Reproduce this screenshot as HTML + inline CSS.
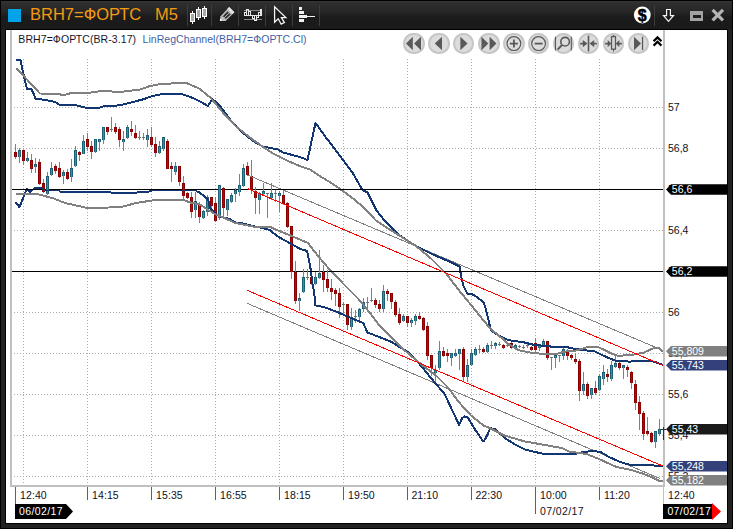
<!DOCTYPE html>
<html lang="ru">
<head>
<meta charset="utf-8">
<title>BRH7=ФОРТС M5</title>
<style>
html,body{margin:0;padding:0;}
body{width:733px;height:529px;position:relative;overflow:hidden;background:#000;font-family:"Liberation Sans",sans-serif;}
#frame{position:absolute;left:1px;top:1px;width:731px;height:527px;background:#212121;}
#tbar{position:absolute;left:1px;top:1px;width:731px;height:28px;background:linear-gradient(#363636 0px,#2e2e2e 2px,#282828 9px,#222222 13px,#1b1b1b 16px,#1a1a1a 28px);}
#panel{position:absolute;left:5px;top:29px;width:721px;height:493px;background:#fff;border:1px solid #000;}
.t{position:absolute;white-space:nowrap;line-height:14px;height:14px;}
#sq{position:absolute;left:7.5px;top:8.5px;width:13px;height:13px;background:#00a2e8;}
#title{position:absolute;left:30px;top:4px;font-size:16.5px;line-height:21px;color:#f59a14;white-space:pre;}
#m5{position:absolute;left:155px;top:4px;font-size:16.5px;line-height:21px;color:#f59a14;white-space:pre;}
.nb{position:absolute;top:32.7px;width:21.8px;height:21.8px;border-radius:50%;background:#dcdcdc;box-shadow:inset 0 0 0 2px #c6c6c6;}
</style>
</head>
<body>
<div id="frame"></div>
<div id="tbar"></div>
<div id="panel"></div>
<div class="t" style="left:668px;top:100px;color:#101020;font-size:10.5px;">57</div>
<div class="t" style="left:668px;top:141px;color:#101020;font-size:10.5px;">56,8</div>
<div class="t" style="left:668px;top:182px;color:#101020;font-size:10.5px;">56,6</div>
<div class="t" style="left:668px;top:223px;color:#101020;font-size:10.5px;">56,4</div>
<div class="t" style="left:668px;top:264px;color:#101020;font-size:10.5px;">56,2</div>
<div class="t" style="left:668px;top:305px;color:#101020;font-size:10.5px;">56</div>
<div class="t" style="left:668px;top:346px;color:#101020;font-size:10.5px;">55,8</div>
<div class="t" style="left:668px;top:387px;color:#101020;font-size:10.5px;">55,6</div>
<div class="t" style="left:668px;top:428px;color:#101020;font-size:10.5px;">55,4</div>
<div class="t" style="left:668px;top:469px;color:#101020;font-size:10.5px;">55,2</div>
<svg width="733" height="529" viewBox="0 0 733 529" style="position:absolute;left:0;top:0" shape-rendering="crispEdges">
<line x1="23.5" y1="59" x2="23.5" y2="485" stroke="#aeaeae" stroke-width="1" stroke-dasharray="1,2"/>
<line x1="87.5" y1="59" x2="87.5" y2="485" stroke="#aeaeae" stroke-width="1" stroke-dasharray="1,2"/>
<line x1="151.5" y1="59" x2="151.5" y2="485" stroke="#aeaeae" stroke-width="1" stroke-dasharray="1,2"/>
<line x1="215.5" y1="59" x2="215.5" y2="485" stroke="#aeaeae" stroke-width="1" stroke-dasharray="1,2"/>
<line x1="279.5" y1="59" x2="279.5" y2="485" stroke="#aeaeae" stroke-width="1" stroke-dasharray="1,2"/>
<line x1="343.5" y1="59" x2="343.5" y2="485" stroke="#aeaeae" stroke-width="1" stroke-dasharray="1,2"/>
<line x1="407.5" y1="59" x2="407.5" y2="485" stroke="#aeaeae" stroke-width="1" stroke-dasharray="1,2"/>
<line x1="471.5" y1="59" x2="471.5" y2="485" stroke="#aeaeae" stroke-width="1" stroke-dasharray="1,2"/>
<line x1="535.5" y1="59" x2="535.5" y2="485" stroke="#aeaeae" stroke-width="1" stroke-dasharray="1,2"/>
<line x1="599.5" y1="59" x2="599.5" y2="485" stroke="#aeaeae" stroke-width="1" stroke-dasharray="1,2"/>
<line x1="11" y1="107.5" x2="663" y2="107.5" stroke="#aeaeae" stroke-width="1" stroke-dasharray="1,2"/>
<line x1="11" y1="148.5" x2="663" y2="148.5" stroke="#aeaeae" stroke-width="1" stroke-dasharray="1,2"/>
<line x1="11" y1="230.5" x2="663" y2="230.5" stroke="#aeaeae" stroke-width="1" stroke-dasharray="1,2"/>
<line x1="11" y1="312.5" x2="663" y2="312.5" stroke="#aeaeae" stroke-width="1" stroke-dasharray="1,2"/>
<line x1="11" y1="353.5" x2="663" y2="353.5" stroke="#aeaeae" stroke-width="1" stroke-dasharray="1,2"/>
<line x1="11" y1="394.5" x2="663" y2="394.5" stroke="#aeaeae" stroke-width="1" stroke-dasharray="1,2"/>
<line x1="11" y1="435.5" x2="663" y2="435.5" stroke="#aeaeae" stroke-width="1" stroke-dasharray="1,2"/>
<line x1="11" y1="476.5" x2="663" y2="476.5" stroke="#aeaeae" stroke-width="1" stroke-dasharray="1,2"/>
<rect x="10" y="30" width="2" height="457" fill="#c0c0c0"/>
<rect x="10" y="485" width="655" height="2" fill="#c0c0c0"/>
<rect x="663" y="30" width="2" height="457" fill="#c0c0c0"/>
<rect x="15" y="487" width="1" height="17" fill="#606060"/>
<rect x="87" y="487" width="1" height="13" fill="#606060"/>
<rect x="151" y="487" width="1" height="13" fill="#606060"/>
<rect x="215" y="487" width="1" height="13" fill="#606060"/>
<rect x="279" y="487" width="1" height="13" fill="#606060"/>
<rect x="343" y="487" width="1" height="13" fill="#606060"/>
<rect x="407" y="487" width="1" height="13" fill="#606060"/>
<rect x="471" y="487" width="1" height="13" fill="#606060"/>
<rect x="535" y="487" width="1" height="27" fill="#606060"/>
<rect x="599" y="487" width="1" height="13" fill="#606060"/>
<rect x="663" y="487" width="1" height="17" fill="#c0c0c0"/>
<rect x="12" y="189" width="651" height="1" fill="#000"/>
<rect x="12" y="271" width="651" height="1" fill="#000"/>
<rect x="15" y="144" width="1" height="15" fill="#808080"/>
<rect x="14" y="152" width="3" height="5" fill="#8a0000"/>
<rect x="15" y="153" width="1" height="4" fill="#c40000"/>
<rect x="19" y="148" width="1" height="15" fill="#808080"/>
<rect x="18" y="150" width="3" height="7" fill="#1c6076"/>
<rect x="19" y="151" width="1" height="6" fill="#3490ac"/>
<rect x="23" y="150" width="1" height="15" fill="#808080"/>
<rect x="22" y="150" width="3" height="11" fill="#8a0000"/>
<rect x="23" y="151" width="1" height="10" fill="#c40000"/>
<rect x="27" y="152" width="1" height="10" fill="#808080"/>
<rect x="26" y="158" width="3" height="3" fill="#1c6076"/>
<rect x="27" y="159" width="1" height="2" fill="#3490ac"/>
<rect x="31" y="154" width="1" height="19" fill="#808080"/>
<rect x="30" y="160" width="3" height="9" fill="#8a0000"/>
<rect x="31" y="161" width="1" height="8" fill="#c40000"/>
<rect x="35" y="158" width="1" height="15" fill="#808080"/>
<rect x="34" y="164" width="3" height="3" fill="#1c6076"/>
<rect x="35" y="165" width="1" height="2" fill="#3490ac"/>
<rect x="39" y="159" width="1" height="26" fill="#808080"/>
<rect x="38" y="162" width="3" height="22" fill="#8a0000"/>
<rect x="39" y="163" width="1" height="21" fill="#c40000"/>
<rect x="43" y="179" width="1" height="14" fill="#808080"/>
<rect x="42" y="183" width="3" height="9" fill="#8a0000"/>
<rect x="43" y="184" width="1" height="8" fill="#c40000"/>
<rect x="47" y="172" width="1" height="23" fill="#808080"/>
<rect x="46" y="176" width="3" height="18" fill="#1c6076"/>
<rect x="47" y="177" width="1" height="17" fill="#3490ac"/>
<rect x="51" y="162" width="1" height="14" fill="#808080"/>
<rect x="50" y="168" width="3" height="7" fill="#1c6076"/>
<rect x="51" y="169" width="1" height="6" fill="#3490ac"/>
<rect x="55" y="164" width="1" height="10" fill="#808080"/>
<rect x="54" y="166" width="3" height="5" fill="#8a0000"/>
<rect x="55" y="167" width="1" height="4" fill="#c40000"/>
<rect x="59" y="162" width="1" height="16" fill="#808080"/>
<rect x="58" y="168" width="3" height="9" fill="#8a0000"/>
<rect x="59" y="169" width="1" height="8" fill="#c40000"/>
<rect x="63" y="170" width="1" height="14" fill="#808080"/>
<rect x="62" y="172" width="3" height="4" fill="#1c6076"/>
<rect x="63" y="173" width="1" height="3" fill="#3490ac"/>
<rect x="67" y="169" width="1" height="11" fill="#808080"/>
<rect x="66" y="172" width="3" height="7" fill="#8a0000"/>
<rect x="67" y="173" width="1" height="6" fill="#c40000"/>
<rect x="71" y="159" width="1" height="23" fill="#808080"/>
<rect x="70" y="168" width="3" height="9" fill="#1c6076"/>
<rect x="71" y="169" width="1" height="8" fill="#3490ac"/>
<rect x="75" y="146" width="1" height="21" fill="#808080"/>
<rect x="74" y="150" width="3" height="16" fill="#1c6076"/>
<rect x="75" y="151" width="1" height="15" fill="#3490ac"/>
<rect x="79" y="151" width="1" height="10" fill="#808080"/>
<rect x="78" y="152" width="3" height="3" fill="#8a0000"/>
<rect x="79" y="153" width="1" height="2" fill="#c40000"/>
<rect x="83" y="135" width="1" height="19" fill="#808080"/>
<rect x="82" y="141" width="3" height="13" fill="#1c6076"/>
<rect x="83" y="142" width="1" height="12" fill="#3490ac"/>
<rect x="87" y="133" width="1" height="18" fill="#808080"/>
<rect x="86" y="139" width="3" height="8" fill="#8a0000"/>
<rect x="87" y="140" width="1" height="7" fill="#c40000"/>
<rect x="91" y="141" width="1" height="18" fill="#808080"/>
<rect x="90" y="146" width="3" height="6" fill="#8a0000"/>
<rect x="91" y="147" width="1" height="5" fill="#c40000"/>
<rect x="95" y="139" width="1" height="14" fill="#808080"/>
<rect x="94" y="139" width="3" height="13" fill="#1c6076"/>
<rect x="95" y="140" width="1" height="12" fill="#3490ac"/>
<rect x="99" y="139" width="1" height="12" fill="#808080"/>
<rect x="98" y="139" width="3" height="3" fill="#1c6076"/>
<rect x="99" y="140" width="1" height="2" fill="#3490ac"/>
<rect x="103" y="127" width="1" height="17" fill="#808080"/>
<rect x="102" y="127" width="3" height="13" fill="#1c6076"/>
<rect x="103" y="128" width="1" height="12" fill="#3490ac"/>
<rect x="107" y="127" width="1" height="8" fill="#808080"/>
<rect x="106" y="127" width="3" height="5" fill="#8a0000"/>
<rect x="107" y="128" width="1" height="4" fill="#c40000"/>
<rect x="111" y="117" width="1" height="15" fill="#808080"/>
<rect x="110" y="129" width="3" height="1" fill="#707070"/>
<rect x="115" y="123" width="1" height="11" fill="#808080"/>
<rect x="114" y="127" width="3" height="5" fill="#8a0000"/>
<rect x="115" y="128" width="1" height="4" fill="#c40000"/>
<rect x="119" y="127" width="1" height="20" fill="#808080"/>
<rect x="118" y="129" width="3" height="11" fill="#8a0000"/>
<rect x="119" y="130" width="1" height="10" fill="#c40000"/>
<rect x="123" y="131" width="1" height="20" fill="#808080"/>
<rect x="122" y="139" width="3" height="3" fill="#1c6076"/>
<rect x="123" y="140" width="1" height="2" fill="#3490ac"/>
<rect x="127" y="125" width="1" height="14" fill="#808080"/>
<rect x="126" y="127" width="3" height="11" fill="#1c6076"/>
<rect x="127" y="128" width="1" height="10" fill="#3490ac"/>
<rect x="131" y="121" width="1" height="15" fill="#808080"/>
<rect x="130" y="129" width="3" height="3" fill="#8a0000"/>
<rect x="131" y="130" width="1" height="2" fill="#c40000"/>
<rect x="135" y="125" width="1" height="14" fill="#808080"/>
<rect x="134" y="133" width="3" height="5" fill="#8a0000"/>
<rect x="135" y="134" width="1" height="4" fill="#c40000"/>
<rect x="139" y="131" width="1" height="9" fill="#808080"/>
<rect x="138" y="137" width="3" height="1" fill="#707070"/>
<rect x="143" y="133" width="1" height="7" fill="#808080"/>
<rect x="142" y="137" width="3" height="1" fill="#707070"/>
<rect x="147" y="129" width="1" height="18" fill="#808080"/>
<rect x="146" y="135" width="3" height="5" fill="#1c6076"/>
<rect x="147" y="136" width="1" height="4" fill="#3490ac"/>
<rect x="151" y="127" width="1" height="20" fill="#808080"/>
<rect x="150" y="137" width="3" height="8" fill="#8a0000"/>
<rect x="151" y="138" width="1" height="7" fill="#c40000"/>
<rect x="155" y="137" width="1" height="20" fill="#808080"/>
<rect x="154" y="144" width="3" height="9" fill="#8a0000"/>
<rect x="155" y="145" width="1" height="8" fill="#c40000"/>
<rect x="159" y="141" width="1" height="13" fill="#808080"/>
<rect x="158" y="146" width="3" height="7" fill="#1c6076"/>
<rect x="159" y="147" width="1" height="6" fill="#3490ac"/>
<rect x="163" y="137" width="1" height="14" fill="#808080"/>
<rect x="162" y="137" width="3" height="12" fill="#1c6076"/>
<rect x="163" y="138" width="1" height="11" fill="#3490ac"/>
<rect x="167" y="139" width="1" height="30" fill="#808080"/>
<rect x="166" y="141" width="3" height="28" fill="#8a0000"/>
<rect x="167" y="142" width="1" height="27" fill="#c40000"/>
<rect x="171" y="162" width="1" height="20" fill="#808080"/>
<rect x="170" y="166" width="3" height="3" fill="#8a0000"/>
<rect x="171" y="167" width="1" height="2" fill="#c40000"/>
<rect x="175" y="162" width="1" height="13" fill="#808080"/>
<rect x="174" y="166" width="3" height="6" fill="#1c6076"/>
<rect x="175" y="167" width="1" height="5" fill="#3490ac"/>
<rect x="179" y="166" width="1" height="20" fill="#808080"/>
<rect x="178" y="166" width="3" height="16" fill="#8a0000"/>
<rect x="179" y="167" width="1" height="15" fill="#c40000"/>
<rect x="183" y="176" width="1" height="24" fill="#808080"/>
<rect x="182" y="183" width="3" height="13" fill="#8a0000"/>
<rect x="183" y="184" width="1" height="12" fill="#c40000"/>
<rect x="187" y="192" width="1" height="7" fill="#808080"/>
<rect x="186" y="193" width="3" height="5" fill="#8a0000"/>
<rect x="187" y="194" width="1" height="4" fill="#c40000"/>
<rect x="191" y="192" width="1" height="26" fill="#808080"/>
<rect x="190" y="197" width="3" height="15" fill="#8a0000"/>
<rect x="191" y="198" width="1" height="14" fill="#c40000"/>
<rect x="195" y="192" width="1" height="26" fill="#808080"/>
<rect x="194" y="201" width="3" height="9" fill="#1c6076"/>
<rect x="195" y="202" width="1" height="8" fill="#3490ac"/>
<rect x="199" y="202" width="1" height="21" fill="#808080"/>
<rect x="198" y="204" width="3" height="13" fill="#8a0000"/>
<rect x="199" y="205" width="1" height="12" fill="#c40000"/>
<rect x="203" y="210" width="1" height="9" fill="#808080"/>
<rect x="202" y="211" width="3" height="7" fill="#1c6076"/>
<rect x="203" y="212" width="1" height="6" fill="#3490ac"/>
<rect x="207" y="195" width="1" height="21" fill="#808080"/>
<rect x="206" y="197" width="3" height="15" fill="#1c6076"/>
<rect x="207" y="198" width="1" height="14" fill="#3490ac"/>
<rect x="211" y="197" width="1" height="13" fill="#808080"/>
<rect x="210" y="197" width="3" height="9" fill="#8a0000"/>
<rect x="211" y="198" width="1" height="8" fill="#c40000"/>
<rect x="215" y="197" width="1" height="25" fill="#808080"/>
<rect x="214" y="203" width="3" height="18" fill="#8a0000"/>
<rect x="215" y="204" width="1" height="17" fill="#c40000"/>
<rect x="219" y="185" width="1" height="35" fill="#808080"/>
<rect x="218" y="185" width="3" height="33" fill="#1c6076"/>
<rect x="219" y="186" width="1" height="32" fill="#3490ac"/>
<rect x="223" y="187" width="1" height="30" fill="#808080"/>
<rect x="222" y="188" width="3" height="20" fill="#8a0000"/>
<rect x="223" y="189" width="1" height="19" fill="#c40000"/>
<rect x="227" y="199" width="1" height="17" fill="#808080"/>
<rect x="226" y="199" width="3" height="11" fill="#1c6076"/>
<rect x="227" y="200" width="1" height="10" fill="#3490ac"/>
<rect x="231" y="193" width="1" height="10" fill="#808080"/>
<rect x="230" y="195" width="3" height="7" fill="#1c6076"/>
<rect x="231" y="196" width="1" height="6" fill="#3490ac"/>
<rect x="235" y="188" width="1" height="14" fill="#808080"/>
<rect x="234" y="190" width="3" height="4" fill="#1c6076"/>
<rect x="235" y="191" width="1" height="3" fill="#3490ac"/>
<rect x="239" y="174" width="1" height="22" fill="#808080"/>
<rect x="238" y="185" width="3" height="7" fill="#1c6076"/>
<rect x="239" y="186" width="1" height="6" fill="#3490ac"/>
<rect x="243" y="164" width="1" height="23" fill="#808080"/>
<rect x="242" y="168" width="3" height="18" fill="#1c6076"/>
<rect x="243" y="169" width="1" height="17" fill="#3490ac"/>
<rect x="247" y="162" width="1" height="14" fill="#808080"/>
<rect x="246" y="166" width="3" height="9" fill="#8a0000"/>
<rect x="247" y="167" width="1" height="8" fill="#c40000"/>
<rect x="251" y="160" width="1" height="34" fill="#808080"/>
<rect x="250" y="176" width="3" height="14" fill="#8a0000"/>
<rect x="251" y="177" width="1" height="13" fill="#c40000"/>
<rect x="255" y="187" width="1" height="27" fill="#808080"/>
<rect x="254" y="191" width="3" height="7" fill="#8a0000"/>
<rect x="255" y="192" width="1" height="6" fill="#c40000"/>
<rect x="259" y="192" width="1" height="22" fill="#808080"/>
<rect x="258" y="193" width="3" height="7" fill="#1c6076"/>
<rect x="259" y="194" width="1" height="6" fill="#3490ac"/>
<rect x="263" y="183" width="1" height="12" fill="#808080"/>
<rect x="262" y="191" width="3" height="3" fill="#1c6076"/>
<rect x="263" y="192" width="1" height="2" fill="#3490ac"/>
<rect x="267" y="193" width="1" height="25" fill="#808080"/>
<rect x="266" y="193" width="3" height="1" fill="#707070"/>
<rect x="271" y="183" width="1" height="17" fill="#808080"/>
<rect x="270" y="193" width="3" height="5" fill="#1c6076"/>
<rect x="271" y="194" width="1" height="4" fill="#3490ac"/>
<rect x="275" y="190" width="1" height="12" fill="#808080"/>
<rect x="274" y="193" width="3" height="1" fill="#707070"/>
<rect x="279" y="191" width="1" height="21" fill="#808080"/>
<rect x="278" y="193" width="3" height="3" fill="#1c6076"/>
<rect x="279" y="194" width="1" height="2" fill="#3490ac"/>
<rect x="283" y="191" width="1" height="14" fill="#808080"/>
<rect x="282" y="195" width="3" height="9" fill="#8a0000"/>
<rect x="283" y="196" width="1" height="8" fill="#c40000"/>
<rect x="287" y="202" width="1" height="26" fill="#808080"/>
<rect x="286" y="203" width="3" height="24" fill="#8a0000"/>
<rect x="287" y="204" width="1" height="23" fill="#c40000"/>
<rect x="291" y="226" width="1" height="53" fill="#808080"/>
<rect x="290" y="226" width="3" height="46" fill="#8a0000"/>
<rect x="291" y="227" width="1" height="45" fill="#c40000"/>
<rect x="295" y="261" width="1" height="43" fill="#808080"/>
<rect x="294" y="272" width="3" height="29" fill="#8a0000"/>
<rect x="295" y="273" width="1" height="28" fill="#c40000"/>
<rect x="299" y="293" width="1" height="18" fill="#808080"/>
<rect x="298" y="298" width="3" height="3" fill="#1c6076"/>
<rect x="299" y="299" width="1" height="2" fill="#3490ac"/>
<rect x="303" y="269" width="1" height="24" fill="#808080"/>
<rect x="302" y="277" width="3" height="15" fill="#1c6076"/>
<rect x="303" y="278" width="1" height="14" fill="#3490ac"/>
<rect x="307" y="269" width="1" height="11" fill="#808080"/>
<rect x="306" y="277" width="3" height="1" fill="#707070"/>
<rect x="311" y="272" width="1" height="13" fill="#808080"/>
<rect x="310" y="277" width="3" height="7" fill="#8a0000"/>
<rect x="311" y="278" width="1" height="6" fill="#c40000"/>
<rect x="315" y="272" width="1" height="13" fill="#808080"/>
<rect x="314" y="277" width="3" height="7" fill="#1c6076"/>
<rect x="315" y="278" width="1" height="6" fill="#3490ac"/>
<rect x="319" y="250" width="1" height="29" fill="#808080"/>
<rect x="318" y="273" width="3" height="5" fill="#1c6076"/>
<rect x="319" y="274" width="1" height="4" fill="#3490ac"/>
<rect x="323" y="265" width="1" height="27" fill="#808080"/>
<rect x="322" y="272" width="3" height="8" fill="#8a0000"/>
<rect x="323" y="273" width="1" height="7" fill="#c40000"/>
<rect x="327" y="270" width="1" height="22" fill="#808080"/>
<rect x="326" y="279" width="3" height="9" fill="#8a0000"/>
<rect x="327" y="280" width="1" height="8" fill="#c40000"/>
<rect x="331" y="279" width="1" height="21" fill="#808080"/>
<rect x="330" y="288" width="3" height="4" fill="#8a0000"/>
<rect x="331" y="289" width="1" height="3" fill="#c40000"/>
<rect x="335" y="288" width="1" height="18" fill="#808080"/>
<rect x="334" y="290" width="3" height="4" fill="#8a0000"/>
<rect x="335" y="291" width="1" height="3" fill="#c40000"/>
<rect x="339" y="288" width="1" height="30" fill="#808080"/>
<rect x="338" y="293" width="3" height="14" fill="#8a0000"/>
<rect x="339" y="294" width="1" height="13" fill="#c40000"/>
<rect x="343" y="302" width="1" height="14" fill="#808080"/>
<rect x="342" y="304" width="3" height="1" fill="#707070"/>
<rect x="347" y="304" width="1" height="26" fill="#808080"/>
<rect x="346" y="304" width="3" height="21" fill="#8a0000"/>
<rect x="347" y="305" width="1" height="20" fill="#c40000"/>
<rect x="351" y="308" width="1" height="22" fill="#808080"/>
<rect x="350" y="317" width="3" height="10" fill="#1c6076"/>
<rect x="351" y="318" width="1" height="9" fill="#3490ac"/>
<rect x="355" y="310" width="1" height="13" fill="#808080"/>
<rect x="354" y="316" width="3" height="1" fill="#707070"/>
<rect x="359" y="308" width="1" height="12" fill="#808080"/>
<rect x="358" y="309" width="3" height="8" fill="#1c6076"/>
<rect x="359" y="310" width="1" height="7" fill="#3490ac"/>
<rect x="363" y="298" width="1" height="14" fill="#808080"/>
<rect x="362" y="302" width="3" height="7" fill="#1c6076"/>
<rect x="363" y="303" width="1" height="6" fill="#3490ac"/>
<rect x="367" y="297" width="1" height="15" fill="#808080"/>
<rect x="366" y="302" width="3" height="1" fill="#707070"/>
<rect x="371" y="288" width="1" height="14" fill="#808080"/>
<rect x="370" y="300" width="3" height="1" fill="#707070"/>
<rect x="375" y="298" width="1" height="10" fill="#808080"/>
<rect x="374" y="300" width="3" height="5" fill="#8a0000"/>
<rect x="375" y="301" width="1" height="4" fill="#c40000"/>
<rect x="379" y="300" width="1" height="12" fill="#808080"/>
<rect x="378" y="304" width="3" height="5" fill="#8a0000"/>
<rect x="379" y="305" width="1" height="4" fill="#c40000"/>
<rect x="383" y="285" width="1" height="27" fill="#808080"/>
<rect x="382" y="291" width="3" height="18" fill="#1c6076"/>
<rect x="383" y="292" width="1" height="17" fill="#3490ac"/>
<rect x="387" y="289" width="1" height="12" fill="#808080"/>
<rect x="386" y="291" width="3" height="3" fill="#8a0000"/>
<rect x="387" y="292" width="1" height="2" fill="#c40000"/>
<rect x="391" y="293" width="1" height="16" fill="#808080"/>
<rect x="390" y="293" width="3" height="9" fill="#8a0000"/>
<rect x="391" y="294" width="1" height="8" fill="#c40000"/>
<rect x="395" y="300" width="1" height="17" fill="#808080"/>
<rect x="394" y="302" width="3" height="13" fill="#8a0000"/>
<rect x="395" y="303" width="1" height="12" fill="#c40000"/>
<rect x="399" y="308" width="1" height="17" fill="#808080"/>
<rect x="398" y="314" width="3" height="9" fill="#8a0000"/>
<rect x="399" y="315" width="1" height="8" fill="#c40000"/>
<rect x="403" y="314" width="1" height="8" fill="#808080"/>
<rect x="402" y="316" width="3" height="5" fill="#1c6076"/>
<rect x="403" y="317" width="1" height="4" fill="#3490ac"/>
<rect x="407" y="316" width="1" height="11" fill="#808080"/>
<rect x="406" y="316" width="3" height="7" fill="#8a0000"/>
<rect x="407" y="317" width="1" height="6" fill="#c40000"/>
<rect x="411" y="318" width="1" height="9" fill="#808080"/>
<rect x="410" y="320" width="3" height="3" fill="#1c6076"/>
<rect x="411" y="321" width="1" height="2" fill="#3490ac"/>
<rect x="415" y="314" width="1" height="11" fill="#808080"/>
<rect x="414" y="316" width="3" height="5" fill="#1c6076"/>
<rect x="415" y="317" width="1" height="4" fill="#3490ac"/>
<rect x="419" y="312" width="1" height="8" fill="#808080"/>
<rect x="418" y="316" width="3" height="3" fill="#8a0000"/>
<rect x="419" y="317" width="1" height="2" fill="#c40000"/>
<rect x="423" y="317" width="1" height="14" fill="#808080"/>
<rect x="422" y="318" width="3" height="12" fill="#8a0000"/>
<rect x="423" y="319" width="1" height="11" fill="#c40000"/>
<rect x="427" y="322" width="1" height="38" fill="#808080"/>
<rect x="426" y="326" width="3" height="30" fill="#8a0000"/>
<rect x="427" y="327" width="1" height="29" fill="#c40000"/>
<rect x="431" y="355" width="1" height="21" fill="#808080"/>
<rect x="430" y="355" width="3" height="13" fill="#8a0000"/>
<rect x="431" y="356" width="1" height="12" fill="#c40000"/>
<rect x="435" y="365" width="1" height="18" fill="#808080"/>
<rect x="434" y="370" width="3" height="3" fill="#1c6076"/>
<rect x="435" y="371" width="1" height="2" fill="#3490ac"/>
<rect x="439" y="341" width="1" height="29" fill="#808080"/>
<rect x="438" y="351" width="3" height="17" fill="#1c6076"/>
<rect x="439" y="352" width="1" height="16" fill="#3490ac"/>
<rect x="443" y="347" width="1" height="10" fill="#808080"/>
<rect x="442" y="351" width="3" height="5" fill="#8a0000"/>
<rect x="443" y="352" width="1" height="4" fill="#c40000"/>
<rect x="447" y="349" width="1" height="13" fill="#808080"/>
<rect x="446" y="353" width="3" height="3" fill="#8a0000"/>
<rect x="447" y="354" width="1" height="2" fill="#c40000"/>
<rect x="451" y="353" width="1" height="13" fill="#808080"/>
<rect x="450" y="353" width="3" height="5" fill="#1c6076"/>
<rect x="451" y="354" width="1" height="4" fill="#3490ac"/>
<rect x="455" y="349" width="1" height="8" fill="#808080"/>
<rect x="454" y="353" width="3" height="3" fill="#1c6076"/>
<rect x="455" y="354" width="1" height="2" fill="#3490ac"/>
<rect x="459" y="349" width="1" height="21" fill="#808080"/>
<rect x="458" y="349" width="3" height="5" fill="#1c6076"/>
<rect x="459" y="350" width="1" height="4" fill="#3490ac"/>
<rect x="463" y="347" width="1" height="35" fill="#808080"/>
<rect x="462" y="349" width="3" height="28" fill="#8a0000"/>
<rect x="463" y="350" width="1" height="27" fill="#c40000"/>
<rect x="467" y="359" width="1" height="23" fill="#808080"/>
<rect x="466" y="365" width="3" height="12" fill="#1c6076"/>
<rect x="467" y="366" width="1" height="11" fill="#3490ac"/>
<rect x="471" y="349" width="1" height="17" fill="#808080"/>
<rect x="470" y="353" width="3" height="12" fill="#1c6076"/>
<rect x="471" y="354" width="1" height="11" fill="#3490ac"/>
<rect x="475" y="347" width="1" height="9" fill="#808080"/>
<rect x="474" y="349" width="3" height="6" fill="#1c6076"/>
<rect x="475" y="350" width="1" height="5" fill="#3490ac"/>
<rect x="479" y="345" width="1" height="8" fill="#808080"/>
<rect x="478" y="349" width="3" height="1" fill="#707070"/>
<rect x="483" y="347" width="1" height="6" fill="#808080"/>
<rect x="482" y="349" width="3" height="3" fill="#8a0000"/>
<rect x="483" y="350" width="1" height="2" fill="#c40000"/>
<rect x="487" y="343" width="1" height="10" fill="#808080"/>
<rect x="486" y="345" width="3" height="7" fill="#1c6076"/>
<rect x="487" y="346" width="1" height="6" fill="#3490ac"/>
<rect x="491" y="341" width="1" height="8" fill="#808080"/>
<rect x="490" y="345" width="3" height="1" fill="#707070"/>
<rect x="495" y="342" width="1" height="7" fill="#808080"/>
<rect x="494" y="343" width="3" height="3" fill="#1c6076"/>
<rect x="495" y="344" width="1" height="2" fill="#3490ac"/>
<rect x="499" y="342" width="1" height="4" fill="#808080"/>
<rect x="498" y="344" width="3" height="1" fill="#707070"/>
<rect x="503" y="344" width="1" height="5" fill="#808080"/>
<rect x="502" y="345" width="3" height="3" fill="#8a0000"/>
<rect x="503" y="346" width="1" height="2" fill="#c40000"/>
<rect x="507" y="344" width="1" height="3" fill="#808080"/>
<rect x="506" y="345" width="3" height="1" fill="#707070"/>
<rect x="511" y="342" width="1" height="7" fill="#808080"/>
<rect x="510" y="343" width="3" height="5" fill="#8a0000"/>
<rect x="511" y="344" width="1" height="4" fill="#c40000"/>
<rect x="515" y="344" width="1" height="5" fill="#808080"/>
<rect x="514" y="345" width="3" height="3" fill="#1c6076"/>
<rect x="515" y="346" width="1" height="2" fill="#3490ac"/>
<rect x="519" y="345" width="1" height="3" fill="#808080"/>
<rect x="518" y="346" width="3" height="1" fill="#707070"/>
<rect x="523" y="345" width="1" height="4" fill="#808080"/>
<rect x="522" y="347" width="3" height="1" fill="#707070"/>
<rect x="527" y="344" width="1" height="4" fill="#808080"/>
<rect x="526" y="345" width="3" height="1" fill="#707070"/>
<rect x="531" y="346" width="1" height="5" fill="#808080"/>
<rect x="530" y="347" width="3" height="3" fill="#8a0000"/>
<rect x="531" y="348" width="1" height="2" fill="#c40000"/>
<rect x="535" y="338" width="1" height="14" fill="#808080"/>
<rect x="534" y="343" width="3" height="7" fill="#8a0000"/>
<rect x="535" y="344" width="1" height="6" fill="#c40000"/>
<rect x="539" y="344" width="1" height="7" fill="#808080"/>
<rect x="538" y="345" width="3" height="3" fill="#1c6076"/>
<rect x="539" y="346" width="1" height="2" fill="#3490ac"/>
<rect x="543" y="339" width="1" height="8" fill="#808080"/>
<rect x="542" y="341" width="3" height="5" fill="#1c6076"/>
<rect x="543" y="342" width="1" height="4" fill="#3490ac"/>
<rect x="547" y="341" width="1" height="19" fill="#808080"/>
<rect x="546" y="341" width="3" height="17" fill="#8a0000"/>
<rect x="547" y="342" width="1" height="16" fill="#c40000"/>
<rect x="551" y="357" width="1" height="13" fill="#808080"/>
<rect x="550" y="357" width="3" height="1" fill="#707070"/>
<rect x="555" y="355" width="1" height="13" fill="#808080"/>
<rect x="554" y="355" width="3" height="3" fill="#1c6076"/>
<rect x="555" y="356" width="1" height="2" fill="#3490ac"/>
<rect x="559" y="355" width="1" height="7" fill="#808080"/>
<rect x="558" y="355" width="3" height="1" fill="#707070"/>
<rect x="563" y="348" width="1" height="12" fill="#808080"/>
<rect x="562" y="349" width="3" height="7" fill="#1c6076"/>
<rect x="563" y="350" width="1" height="6" fill="#3490ac"/>
<rect x="567" y="349" width="1" height="11" fill="#808080"/>
<rect x="566" y="351" width="3" height="5" fill="#8a0000"/>
<rect x="567" y="352" width="1" height="4" fill="#c40000"/>
<rect x="571" y="354" width="1" height="6" fill="#808080"/>
<rect x="570" y="355" width="3" height="3" fill="#8a0000"/>
<rect x="571" y="356" width="1" height="2" fill="#c40000"/>
<rect x="575" y="353" width="1" height="11" fill="#808080"/>
<rect x="574" y="359" width="3" height="3" fill="#8a0000"/>
<rect x="575" y="360" width="1" height="2" fill="#c40000"/>
<rect x="579" y="359" width="1" height="42" fill="#808080"/>
<rect x="578" y="361" width="3" height="30" fill="#8a0000"/>
<rect x="579" y="362" width="1" height="29" fill="#c40000"/>
<rect x="583" y="372" width="1" height="23" fill="#808080"/>
<rect x="582" y="384" width="3" height="7" fill="#1c6076"/>
<rect x="583" y="385" width="1" height="6" fill="#3490ac"/>
<rect x="587" y="382" width="1" height="17" fill="#808080"/>
<rect x="586" y="384" width="3" height="12" fill="#8a0000"/>
<rect x="587" y="385" width="1" height="11" fill="#c40000"/>
<rect x="591" y="388" width="1" height="11" fill="#808080"/>
<rect x="590" y="388" width="3" height="7" fill="#1c6076"/>
<rect x="591" y="389" width="1" height="6" fill="#3490ac"/>
<rect x="595" y="381" width="1" height="14" fill="#808080"/>
<rect x="594" y="388" width="3" height="5" fill="#8a0000"/>
<rect x="595" y="389" width="1" height="4" fill="#c40000"/>
<rect x="599" y="374" width="1" height="17" fill="#808080"/>
<rect x="598" y="376" width="3" height="14" fill="#1c6076"/>
<rect x="599" y="377" width="1" height="13" fill="#3490ac"/>
<rect x="603" y="365" width="1" height="20" fill="#808080"/>
<rect x="602" y="372" width="3" height="7" fill="#1c6076"/>
<rect x="603" y="373" width="1" height="6" fill="#3490ac"/>
<rect x="607" y="369" width="1" height="13" fill="#808080"/>
<rect x="606" y="374" width="3" height="3" fill="#8a0000"/>
<rect x="607" y="375" width="1" height="2" fill="#c40000"/>
<rect x="611" y="361" width="1" height="20" fill="#808080"/>
<rect x="610" y="365" width="3" height="14" fill="#1c6076"/>
<rect x="611" y="366" width="1" height="13" fill="#3490ac"/>
<rect x="615" y="356" width="1" height="12" fill="#808080"/>
<rect x="614" y="363" width="3" height="4" fill="#1c6076"/>
<rect x="615" y="364" width="1" height="3" fill="#3490ac"/>
<rect x="619" y="362" width="1" height="8" fill="#808080"/>
<rect x="618" y="363" width="3" height="5" fill="#8a0000"/>
<rect x="619" y="364" width="1" height="4" fill="#c40000"/>
<rect x="623" y="365" width="1" height="14" fill="#808080"/>
<rect x="622" y="365" width="3" height="3" fill="#1c6076"/>
<rect x="623" y="366" width="1" height="2" fill="#3490ac"/>
<rect x="627" y="365" width="1" height="12" fill="#808080"/>
<rect x="626" y="367" width="3" height="3" fill="#8a0000"/>
<rect x="627" y="368" width="1" height="2" fill="#c40000"/>
<rect x="631" y="371" width="1" height="18" fill="#808080"/>
<rect x="630" y="372" width="3" height="11" fill="#8a0000"/>
<rect x="631" y="373" width="1" height="10" fill="#c40000"/>
<rect x="635" y="380" width="1" height="30" fill="#808080"/>
<rect x="634" y="384" width="3" height="19" fill="#8a0000"/>
<rect x="635" y="385" width="1" height="18" fill="#c40000"/>
<rect x="639" y="396" width="1" height="34" fill="#808080"/>
<rect x="638" y="402" width="3" height="12" fill="#8a0000"/>
<rect x="639" y="403" width="1" height="11" fill="#c40000"/>
<rect x="643" y="411" width="1" height="29" fill="#808080"/>
<rect x="642" y="413" width="3" height="21" fill="#8a0000"/>
<rect x="643" y="414" width="1" height="20" fill="#c40000"/>
<rect x="647" y="417" width="1" height="18" fill="#808080"/>
<rect x="646" y="431" width="3" height="3" fill="#8a0000"/>
<rect x="647" y="432" width="1" height="2" fill="#c40000"/>
<rect x="651" y="432" width="1" height="11" fill="#808080"/>
<rect x="650" y="433" width="3" height="9" fill="#8a0000"/>
<rect x="651" y="434" width="1" height="8" fill="#c40000"/>
<rect x="655" y="431" width="1" height="17" fill="#808080"/>
<rect x="654" y="431" width="3" height="11" fill="#1c6076"/>
<rect x="655" y="432" width="1" height="10" fill="#3490ac"/>
<rect x="659" y="419" width="1" height="17" fill="#808080"/>
<rect x="658" y="429" width="3" height="5" fill="#1c6076"/>
<rect x="659" y="430" width="1" height="4" fill="#3490ac"/>
<rect x="663" y="427" width="1" height="13" fill="#303030"/>
<rect x="661" y="429" width="5" height="1" fill="#303030"/>
<line x1="247.5" y1="175" x2="656" y2="347.5" stroke="#808080" stroke-width="1"/>
<line x1="247.5" y1="303.5" x2="660" y2="478.6" stroke="#808080" stroke-width="1"/>
<polyline points="16.2,59.7 20.5,59.7 23.0,72.2 27.0,88.9 31.5,88.9 35.8,99.1 46.0,99.8 49.5,101.2 54.6,101.7 59.7,104.9 75.0,104.9 87.0,108.0 99.0,108.0 104.0,106.0 119.4,105.4 130.0,102.7 142.5,99.5 152.5,96.0 162.5,94.0 183.0,94.5 190.5,97.0 199.2,101.0 208.0,106.0 212.5,99.0 220.5,106.5 233.0,123.5 245.5,135.0 255.5,142.7 263.0,146.5 278.0,149.5 283.0,152.5 300.0,157.0 307.5,160.0 315.5,123.0 325.0,136.2 341.2,157.5 352.5,172.5 362.5,190.0 367.5,192.5 376.2,210.0 385.0,221.2 398.5,234.7 416.0,246.0 433.5,254.7 451.0,262.2 459.7,266.5 461.0,276.0 463.5,286.0 467.2,293.5 473.5,294.7 483.5,302.2 485.5,308.0 491.0,330.5 498.5,335.5 508.0,340.0 524.6,342.5 533.0,344.6 551.3,346.6 566.2,346.6 569.6,348.0 582.9,350.0 594.5,351.3 601.2,354.6 611.2,359.1 616.2,360.8 630.0,361.6 636.5,361.0 649.0,360.5 656.5,362.5 663.0,365.0" fill="none" stroke="#123672" stroke-width="2" stroke-linejoin="round"/>
<polyline points="196.0,191.0 199.1,192.4 204.1,195.8 208.3,200.0 210.0,208.3 215.0,213.2 220.0,216.6 230.0,219.0 235.0,222.4 243.2,223.6 251.5,225.7 263.2,228.2 270.0,230.0 276.5,235.7 288.0,242.2 300.5,249.0 307.2,251.0 310.8,270.0 312.5,284.1 314.1,291.6 315.3,305.3 325.0,307.4 338.2,312.4 351.6,318.3 363.2,323.0 367.4,332.4 391.0,341.7 408.5,352.5 419.7,364.2 431.0,378.0 444.7,394.2 453.5,413.0 459.2,425.0 462.2,418.0 464.5,416.5 467.5,417.0 475.0,429.5 483.2,441.5 485.0,439.5 490.5,428.2 495.0,429.0 505.0,438.2 515.0,444.5 525.0,449.5 543.7,454.0 574.0,454.0 584.0,452.0 594.0,450.7 601.5,452.5 609.0,457.0 619.0,461.5 626.5,464.0 631.5,465.0 649.0,465.0 656.5,465.7 663.0,466.2" fill="none" stroke="#123672" stroke-width="2" stroke-linejoin="round"/>
<polyline points="15.5,202.2 19.5,207.2 25.0,193.5 27.0,188.5 30.0,192.2 35.0,187.7 40.0,187.7 43.0,189.5" fill="none" stroke="#123672" stroke-width="2" stroke-linejoin="round"/>
<polyline points="59.0,191.0 61.0,192.2 110.0,192.2 115.0,193.5 125.0,193.0 145.0,192.2 152.0,191.0" fill="none" stroke="#123672" stroke-width="2" stroke-linejoin="round"/>
<rect x="43" y="190" width="16" height="1" fill="#123672"/>
<rect x="152" y="190" width="44" height="1" fill="#123672"/>
<polyline points="16.2,67.9 40.0,93.5 58.0,93.8 63.0,95.2 67.4,94.3 71.6,92.6 90.4,92.6 95.5,91.8 105.7,90.6 112.5,91.6 120.0,92.0 140.0,89.5 150.0,86.0 162.3,83.7 186.7,83.2 199.2,88.5 210.5,97.7 223.0,112.7 235.5,126.0 248.0,136.0 260.5,145.2 273.0,153.5 288.0,161.0 300.0,166.2 310.0,169.5 320.0,176.2 332.5,183.7 345.0,192.5 355.0,200.0 365.0,208.7 376.0,220.5 386.0,227.2 401.0,236.5 416.0,246.0 431.0,258.5 446.0,273.5 458.5,289.7 473.5,308.0 483.5,320.5 491.0,329.2 501.0,337.5 508.0,343.5 518.0,350.0 529.6,352.5 539.6,353.6 557.9,353.6 564.6,351.6 574.6,350.8 581.2,349.1 587.9,347.0 597.9,347.0 604.5,350.0 612.8,354.1 617.8,355.8 631.5,355.0 644.0,352.5 654.0,348.0 659.0,348.0 663.0,351.7" fill="none" stroke="#808080" stroke-width="2" stroke-linejoin="round"/>
<polyline points="15.5,194.0 37.5,194.0 53.7,198.5 65.0,203.0 87.5,208.0 100.0,208.0 122.5,206.7 136.0,203.0 155.0,200.0 183.3,200.0 190.0,202.4 200.0,204.6 208.3,210.0 215.0,214.0 223.2,217.4 235.0,222.9 253.2,226.6 270.0,226.6 276.5,230.0 290.5,235.5 308.0,243.0 318.0,256.0 330.0,270.0 345.5,286.0 358.0,298.5 366.0,308.0 378.5,324.2 391.0,336.7 402.0,348.2 421.0,364.2 436.0,375.5 448.5,388.0 458.5,401.7 471.0,415.5 483.5,425.5 490.0,428.2 505.0,435.7 525.0,441.5 545.0,445.0 562.5,448.2 569.0,451.5 586.5,454.0 599.0,459.0 616.5,467.0 631.5,470.0 644.0,474.0 654.0,478.2 659.0,480.7 663.0,480.7" fill="none" stroke="#808080" stroke-width="2" stroke-linejoin="round"/>
<rect x="12" y="189" width="30" height="1" fill="#000"/>
<rect x="45" y="189" width="1" height="1" fill="#000"/>
<rect x="49" y="189" width="133" height="1" fill="#000"/>
<rect x="185" y="189" width="33" height="1" fill="#000"/>
<rect x="221" y="189" width="1" height="1" fill="#000"/>
<rect x="225" y="189" width="10" height="1" fill="#000"/>
<rect x="236" y="189" width="2" height="1" fill="#000"/>
<rect x="241" y="189" width="9" height="1" fill="#000"/>
<rect x="253" y="189" width="2" height="1" fill="#000"/>
<rect x="256" y="189" width="7" height="1" fill="#000"/>
<rect x="264" y="189" width="7" height="1" fill="#000"/>
<rect x="272" y="189" width="391" height="1" fill="#000"/>
<rect x="12" y="271" width="278" height="1" fill="#000"/>
<rect x="293" y="271" width="2" height="1" fill="#000"/>
<rect x="296" y="271" width="7" height="1" fill="#000"/>
<rect x="304" y="271" width="3" height="1" fill="#000"/>
<rect x="308" y="271" width="11" height="1" fill="#000"/>
<rect x="320" y="271" width="3" height="1" fill="#000"/>
<rect x="324" y="271" width="3" height="1" fill="#000"/>
<rect x="328" y="271" width="335" height="1" fill="#000"/>
<line x1="247.5" y1="188.6" x2="663" y2="365.3" stroke="#ff0000" stroke-width="1"/>
<line x1="247.5" y1="290.5" x2="663" y2="466.1" stroke="#ff0000" stroke-width="1"/>
<polygon points="666,189.5 671,184.3 727,184.3 727,194.7 671,194.7" fill="#000000" shape-rendering="auto"/>
<polygon points="666,271.5 671,266.3 727,266.3 727,276.7 671,276.7" fill="#000000" shape-rendering="auto"/>
<polygon points="666,351.3 671,346.1 727,346.1 727,356.5 671,356.5" fill="#808080" shape-rendering="auto"/>
<polygon points="666,365.3 671,360.1 727,360.1 727,370.5 671,370.5" fill="#34407a" shape-rendering="auto"/>
<polygon points="666,429.3 671,424.1 727,424.1 727,434.5 671,434.5" fill="#1a1a1a" shape-rendering="auto"/>
<polygon points="666,466.3 671,461.1 727,461.1 727,471.5 671,471.5" fill="#34407a" shape-rendering="auto"/>
<polygon points="666,480.3 671,475.1 727,475.1 727,485.5 671,485.5" fill="#808080" shape-rendering="auto"/>
<polygon points="15,504 66,504 73,511.5 66,519 15,519" fill="#000" shape-rendering="auto"/>
<rect x="663" y="504" width="49" height="15" fill="#000"/>
<polygon points="712,503 721,511.5 712,520" fill="#ff0000" shape-rendering="auto"/>
</svg>
<div class="t" style="left:671.8px;top:181.8px;color:#fff;font-size:10.5px;">56,6</div>
<div class="t" style="left:671.8px;top:263.8px;color:#fff;font-size:10.5px;">56,2</div>
<div class="t" style="left:671.8px;top:343.6px;color:#fff;font-size:10.5px;">55,809</div>
<div class="t" style="left:671.8px;top:357.6px;color:#fff;font-size:10.5px;">55,743</div>
<div class="t" style="left:671.8px;top:421.6px;color:#fff;font-size:10.5px;">55,43</div>
<div class="t" style="left:671.8px;top:458.6px;color:#fff;font-size:10.5px;">55,248</div>
<div class="t" style="left:671.8px;top:472.6px;color:#fff;font-size:10.5px;">55,182</div>
<div class="t" style="left:20px;top:488px;color:#101020;font-size:10.5px;letter-spacing:0.1px">12:40</div>
<div class="t" style="left:92px;top:488px;color:#101020;font-size:10.5px;letter-spacing:0.1px">14:15</div>
<div class="t" style="left:156px;top:488px;color:#101020;font-size:10.5px;letter-spacing:0.1px">15:35</div>
<div class="t" style="left:220px;top:488px;color:#101020;font-size:10.5px;letter-spacing:0.1px">16:55</div>
<div class="t" style="left:284px;top:488px;color:#101020;font-size:10.5px;letter-spacing:0.1px">18:15</div>
<div class="t" style="left:348px;top:488px;color:#101020;font-size:10.5px;letter-spacing:0.1px">19:50</div>
<div class="t" style="left:411.4px;top:488px;color:#101020;font-size:10.5px;letter-spacing:0.1px">21:10</div>
<div class="t" style="left:475.4px;top:488px;color:#101020;font-size:10.5px;letter-spacing:0.1px">22:30</div>
<div class="t" style="left:540px;top:488px;color:#101020;font-size:10.5px;letter-spacing:0.1px">10:00</div>
<div class="t" style="left:604px;top:488px;color:#101020;font-size:10.5px;letter-spacing:0.1px">11:20</div>
<div class="t" style="left:668px;top:488px;color:#101020;font-size:10.5px;letter-spacing:0.1px">12:40</div>
<div class="t" style="left:540px;top:504px;color:#101020;font-size:10.5px;letter-spacing:0.38px">07/02/17</div>
<div class="t" style="left:19px;top:504px;color:#fff;font-size:10.5px;letter-spacing:0.38px">06/02/17</div>
<div class="t" style="left:667.4px;top:504px;color:#fff;font-size:10.5px;letter-spacing:0.38px">07/02/17</div>
<div class="t" style="left:18.3px;top:32px;color:#15152a;font-size:10.5px;letter-spacing:0.08px">BRH7=ФОРТС(BR-3.17)</div>
<div class="t" style="left:142.5px;top:32px;color:#3f62a4;font-size:10.5px;letter-spacing:0.04px">LinRegChannel(BRH7=ФОРТС.Cl)</div>
<div id="sq"></div>
<div id="title">BRH7=ФОРТС</div>
<div id="m5">M5</div>
<svg width="733" height="30" viewBox="0 0 733 30" style="position:absolute;left:0;top:0">
<g stroke="#3c3c3c" stroke-width="1" shape-rendering="crispEdges">
<line x1="187.5" y1="5" x2="187.5" y2="26"/><line x1="211.5" y1="5" x2="211.5" y2="26"/><line x1="238.5" y1="5" x2="238.5" y2="26"/><line x1="265.5" y1="5" x2="265.5" y2="26"/><line x1="292.5" y1="5" x2="292.5" y2="26"/><line x1="319.5" y1="5" x2="319.5" y2="26"/><line x1="654.5" y1="5" x2="654.5" y2="26"/>
</g>
<!-- candles icon -->
<g shape-rendering="crispEdges" fill="#a8a8a8" stroke="#fff" stroke-width="1">
<line x1="192.5" y1="11" x2="192.5" y2="24"/><rect x="190.5" y="13.5" width="4" height="8"/>
<line x1="198.5" y1="7" x2="198.5" y2="20"/><rect x="196.5" y="9.5" width="4" height="8"/>
<line x1="204.5" y1="6" x2="204.5" y2="19"/><rect x="202.5" y="8.5" width="4" height="8"/>
</g>
<!-- pencil -->
<g>
<polygon points="219.8,21 220.6,16.2 229.2,7 234.4,12.2 225.6,20.9" fill="#bdbdbd"/>
<polygon points="229.2,7 234.4,12.2 232.6,14 227.4,8.8" fill="#e4e4e4"/>
<polygon points="223,16.2 227.6,11.4 230.6,14.4 225.8,19" fill="#303030"/>
<line x1="224.2" y1="17.8" x2="229.3" y2="12.7" stroke="#c8c8c8" stroke-width="0.9"/>
<line x1="222.6" y1="16.6" x2="227.6" y2="11.4" stroke="#3a3a3a" stroke-width="0.8" stroke-dasharray="1,1"/>
<polygon points="219.8,21 220.5,18.4 222.4,20.3" fill="#fff"/>
</g>
<!-- histogram chart icon -->
<g shape-rendering="crispEdges" fill="none" stroke="#e8e8e8" stroke-width="1">
<line x1="244" y1="10.5" x2="262" y2="10.5" stroke="#8a8a8a"/>
<line x1="244" y1="19.5" x2="262" y2="19.5" stroke="#8a8a8a"/>
<polyline points="244.5,15.5 244.5,12.5 246.5,12.5 246.5,9.5 248.5,9.5 248.5,11.5 250.5,11.5 250.5,15.5 252.5,15.5 252.5,18.5 254.5,18.5 254.5,20.5 256.5,20.5 256.5,17.5 258.5,17.5 258.5,12.5 260.5,12.5 260.5,9.5 261.5,9.5 261.5,15.5"/>
<line x1="244" y1="15.5" x2="262" y2="15.5"/>
<line x1="246.5" y1="12" x2="246.5" y2="15"/><line x1="248.5" y1="11" x2="248.5" y2="15"/><line x1="252.5" y1="16" x2="252.5" y2="18"/><line x1="254.5" y1="16" x2="254.5" y2="20"/><line x1="256.5" y1="16" x2="256.5" y2="18"/><line x1="258.5" y1="12" x2="258.5" y2="16"/><line x1="260.5" y1="10" x2="260.5" y2="15"/>
</g>
<!-- cursor -->
<path d="M274.6,6.8 L274.6,22.2 L278.2,18.8 L281.2,24.2 L284.4,22.6 L281.4,17.6 L285.8,17.6 Z" fill="#1a1a1a" stroke="#f4f4f4" stroke-width="1.3" stroke-linejoin="miter"/>
<!-- bars icon -->
<g shape-rendering="crispEdges" fill="#f0f0f0">
<rect x="299" y="7" width="3" height="3"/><rect x="299" y="11" width="5" height="3"/><rect x="299" y="15" width="8" height="3"/><rect x="307" y="16" width="8" height="1"/><rect x="299" y="19" width="5" height="3"/>
</g>
<!-- dollar -->
<circle cx="642.3" cy="15" r="8.4" fill="#fff"/>
<text x="642.3" y="20.8" text-anchor="middle" font-family="Liberation Sans, sans-serif" font-weight="bold" font-size="16" fill="#000" stroke="#000" stroke-width="0.5">$</text>
<!-- down arrow -->
<path d="M666.6,9.5 L670.4,9.5 L670.4,15.6 L673.5,15.6 L668.5,21.4 L663.5,15.6 L666.6,15.6 Z" fill="#1a1a1a" stroke="#f4f4f4" stroke-width="1.2"/>
<!-- maximize -->
<g shape-rendering="crispEdges"><rect x="690" y="11" width="12.5" height="9.5" fill="#a2a2a2"/><rect x="693" y="14.5" width="7.5" height="3.5" fill="#1c1c1c"/></g>
<!-- close -->
<g stroke="#b4b4b4" stroke-width="3.2" stroke-linecap="butt"><line x1="712.6" y1="9.8" x2="723" y2="20.4"/><line x1="723" y1="9.8" x2="712.6" y2="20.4"/></g>
</svg>
<!-- nav buttons -->
<div class="nb" style="left:402.85px"></div><div class="nb" style="left:427.85px"></div><div class="nb" style="left:452.70px"></div><div class="nb" style="left:477.80px"></div><div class="nb" style="left:503.00px"></div><div class="nb" style="left:527.70px"></div><div class="nb" style="left:552.70px"></div><div class="nb" style="left:577.60px"></div><div class="nb" style="left:602.60px"></div><div class="nb" style="left:627.50px"></div>
<svg width="733" height="60" viewBox="0 0 733 60" style="position:absolute;left:0;top:0">
<g fill="#595959">
<polygon points="412.80,36.85 412.80,50.35 406.00,43.60"/>
<polygon points="421.00,36.85 421.00,50.35 414.10,43.60"/>
<polygon points="442.00,36.85 442.00,50.35 434.80,43.60"/>
<polygon points="460.35,36.85 460.35,50.35 467.55,43.60"/>
<polygon points="481.45,36.85 481.45,50.35 488.35,43.60"/>
<polygon points="489.65,36.85 489.65,50.35 496.45,43.60"/>
<polygon points="634.00,36.85 634.00,50.35 641.00,43.60"/>
<rect x="641.9" y="36.8" width="1.3" height="13.3"/>
</g>
<g fill="none" stroke="#595959" stroke-width="1.2">
<circle cx="513.9" cy="43.6" r="6.9"/><path d="M509.9,43.6 H517.9 M513.9,39.6 V47.6" stroke-width="1.8"/>
<circle cx="538.6" cy="43.6" r="6.9"/><path d="M534.6,43.6 H542.6" stroke-width="1.8"/>
<circle cx="565.1" cy="41.7" r="4.3" stroke-width="1.6"/><path d="M562,45 L557.6,49.6" stroke-width="1.9"/><path d="M555.5,36.8 V50.4 M571.3,36.8 V50.4" stroke-width="1.1"/>
<path d="M588.5,35.6 V51.4" stroke-width="1.6"/><path d="M580.2,43.6 H586 M596.8,43.6 H591" stroke-width="1.8"/>
<path d="M613.5,35 V51.6" stroke-width="1.1"/><rect x="611.5" y="36.6" width="4" height="12.6" stroke-width="1.3" fill="#d6d6d6"/><path d="M605.2,43.6 H609 M621.8,43.6 H618" stroke-width="1.8"/>
</g>
<g fill="#595959">
<polygon points="582.8,40 587.4,43.6 582.8,47.2"/><polygon points="594.2,40 589.6,43.6 594.2,47.2"/>
<polygon points="607.7,40 611.2,43.6 607.7,47.2"/><polygon points="619.3,40 615.8,43.6 619.3,47.2"/>
</g>
<g fill="none" stroke="#000" stroke-width="2.3" stroke-linejoin="miter"><polyline points="653.6,41.2 657.5,37.4 661.4,41.2"/><polyline points="653.6,45.6 657.5,41.8 661.4,45.6"/></g>
</svg>
</body>
</html>
